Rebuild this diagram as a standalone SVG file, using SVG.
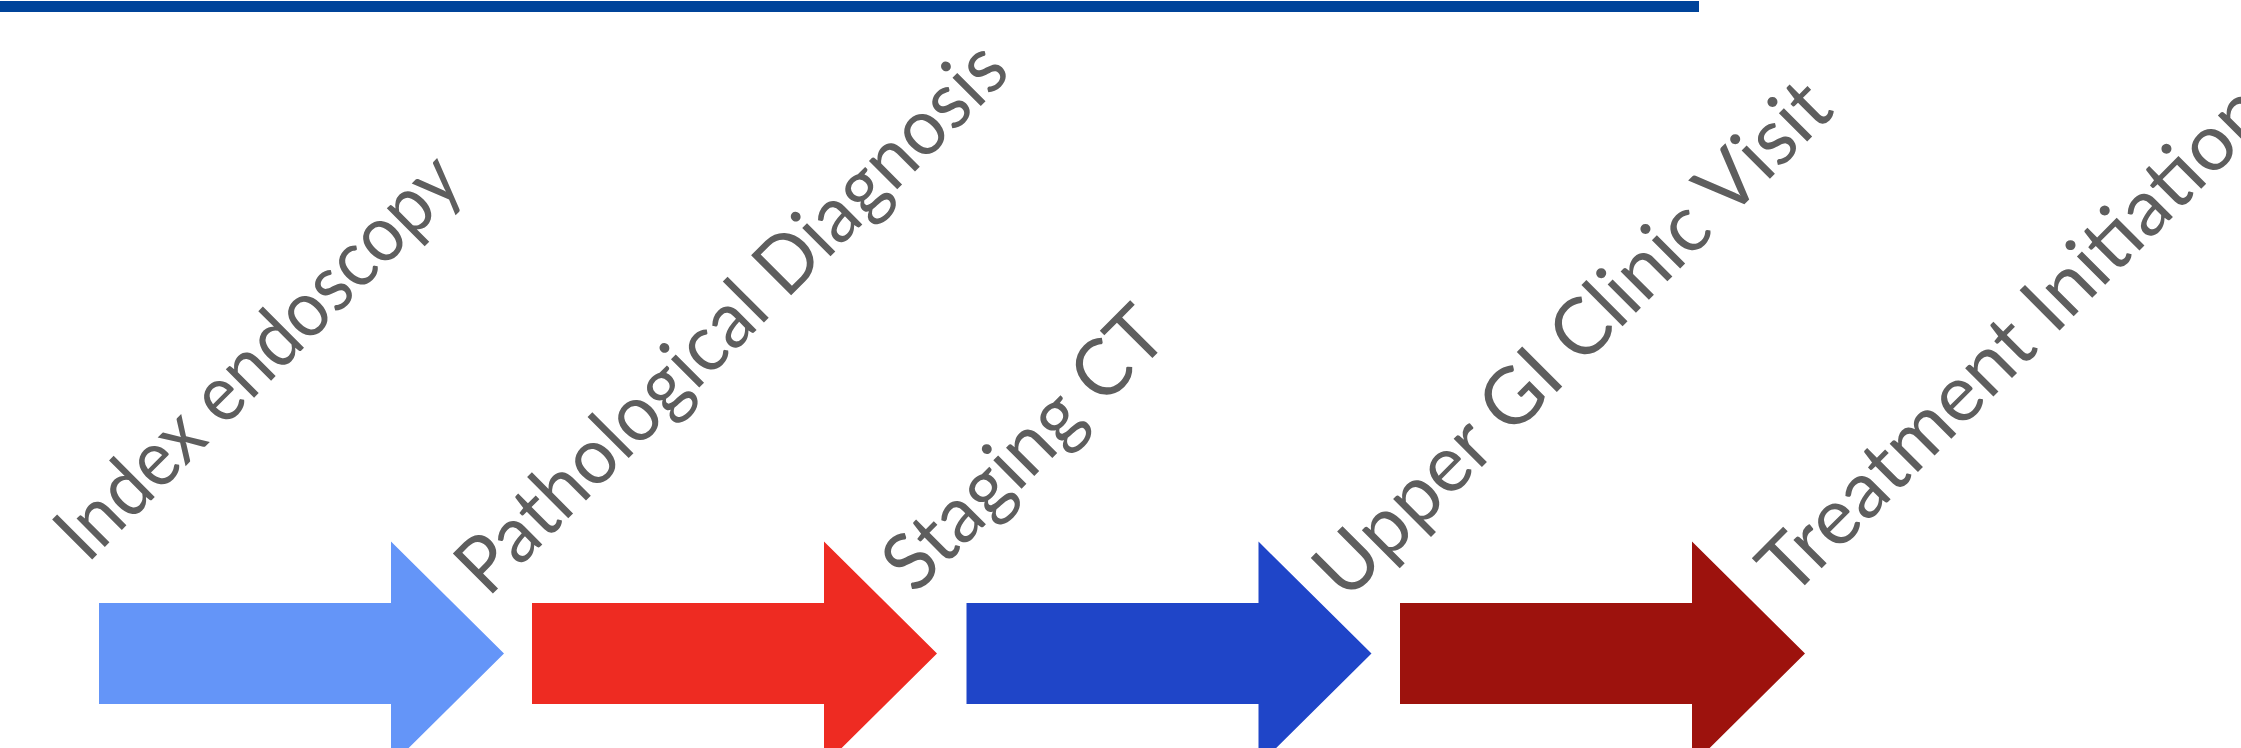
<svg xmlns="http://www.w3.org/2000/svg" width="2241" height="748" viewBox="0 0 2241 748">
  <style>
    .lbl { font-family: Lato, "Open Sans", "Liberation Sans", sans-serif; font-size: 79px; fill: #5E5E5E; }
  </style>
  <defs>
    <path id="arrowShape" d="M0,603 H292 V541.5 L405,653.5 L292,765.5 V704 H0 Z"/>
  </defs>
  <rect id="topbar" x="0" y="1" width="1699" height="11" fill="#00449A"/>
  <g id="connectors">
    <use href="#arrowShape" x="99" fill="#6495F8"/>
    <use href="#arrowShape" x="532" fill="#EE2B22"/>
    <use href="#arrowShape" x="966.5" fill="#1F45C8"/>
    <use href="#arrowShape" x="1400" fill="#9D120D"/>
  </g>
  <g id="node-index-endoscopy">
    <text class="lbl" transform="translate(87.4,564.3) rotate(-45)" textLength="535" lengthAdjust="spacingAndGlyphs">Index endoscopy</text>
  </g>
  <g id="node-pathological-diagnosis">
    <text class="lbl" transform="translate(488,598.6) rotate(-45)" textLength="742" lengthAdjust="spacingAndGlyphs">Pathological Diagnosis</text>
  </g>
  <g id="node-staging-ct">
    <text class="lbl" transform="translate(915,595.4) rotate(-45)" textLength="362" lengthAdjust="spacingAndGlyphs">Staging CT</text>
  </g>
  <g id="node-upper-gi-clinic-visit">
    <text class="lbl" transform="translate(1346.3,602.5) rotate(-45)" textLength="693" lengthAdjust="spacingAndGlyphs">Upper GI Clinic Visit</text>
  </g>
  <g id="node-treatment-initiation">
    <text class="lbl" transform="translate(1791,599) rotate(-45)">Treatment Initiation</text>
  </g>
</svg>
